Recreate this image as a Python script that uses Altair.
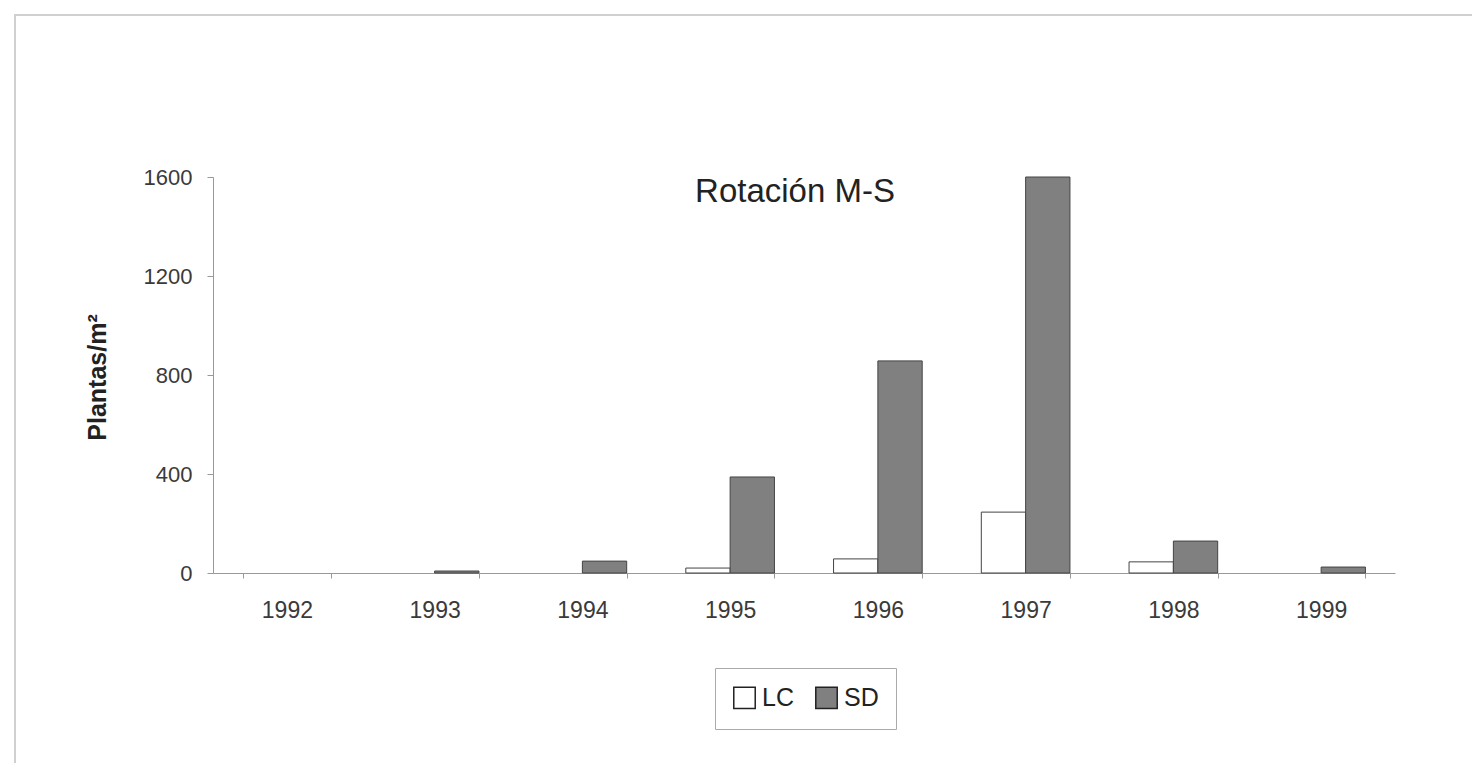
import altair as alt
import pandas as pd

years = ["1992", "1993", "1994", "1995", "1996", "1997", "1998", "1999"]
lc_values = [0, 0, 0, 20, 57, 246, 45, 0]
sd_values = [0, 8, 48, 388, 857, 1600, 129, 24]
series = ["LC", "SD"]
y_ticks = [0, 400, 800, 1200, 1600]

rows = []
for i, yr in enumerate(years):
    rows.append({"year": yr, "serie": "LC", "value": lc_values[i]})
    rows.append({"year": yr, "serie": "SD", "value": sd_values[i]})
df = pd.DataFrame(rows)

FONT = "Liberation Sans"

bars = alt.Chart(df).mark_bar(stroke="#444444", strokeWidth=1).encode(
    x=alt.X("year:N", sort=years,
            scale=alt.Scale(paddingInner=0.4, paddingOuter=0.2),
            axis=alt.Axis(title=None, labelAngle=0, labelPadding=21, labelFontSize=23,
                          labelColor="#3a3a3a", labelFont=FONT, tickBand="extent",
                          tickSize=5, domainColor="#999999", tickColor="#999999")),
    xOffset=alt.XOffset("serie:N", sort=series),
    y=alt.Y("value:Q", scale=alt.Scale(domain=[0, 1600], nice=False),
            axis=alt.Axis(values=y_ticks, format="d", title="Plantas/m²", titleFont=FONT,
                          titleFontSize=25, titleFontWeight="bold", titleColor="#222222",
                          titleX=-116, titleY=200, titleAngle=270, titleAlign="center",
                          titleBaseline="middle",
                          labelFontSize=22, labelColor="#3a3a3a", labelFont=FONT,
                          labelPadding=15, tickSize=6, grid=False,
                          domainColor="#999999", tickColor="#999999")),
    color=alt.Color("serie:N", sort=series,
                    scale=alt.Scale(domain=series, range=["#ffffff", "#808080"]),
                    legend=alt.Legend(title=None, orient="none", legendX=502, legendY=491,
                                      direction="horizontal", symbolType="square",
                                      symbolSize=460, symbolStrokeColor="#222222",
                                      symbolStrokeWidth=1.5, labelFontSize=25,
                                      labelFont=FONT, labelColor="#222222",
                                      strokeColor="#aaaaaa", padding=17,
                                      columnPadding=18, labelOffset=5,
                                      fillColor="#ffffff")),
    strokeOpacity=alt.condition(alt.datum.value == 0, alt.value(0), alt.value(1)),
)

title = alt.Chart(pd.DataFrame({"t": ["Rotación M-S"]})).mark_text(
    fontSize=33, font=FONT, color="#222222", align="center", baseline="middle"
).encode(x=alt.value(582), y=alt.value(15), text="t:N")

border = alt.Chart(pd.DataFrame({"b": [1]})).mark_rect(
    fill=None, stroke="#d0d0d0", strokeWidth=2
).encode(x=alt.value(-198), x2=alt.value(1290), y=alt.value(-162), y2=alt.value(620))

chart = alt.layer(border, bars, title).properties(
    width=1182, height=396,
    autosize=alt.AutoSizeParams(type="none"),
    padding={"left": 205, "top": 169, "right": 77, "bottom": 190},
).configure_view(stroke=None)

chart.save("out.html", embed_options={"renderer": "svg", "actions": False})
